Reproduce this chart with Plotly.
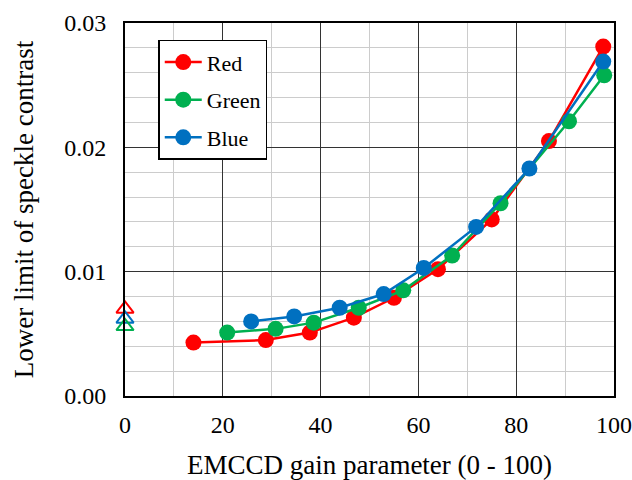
import plotly.graph_objects as go

# EMCCD gain parameter vs. lower limit of speckle contrast, per colour channel
red_gain = [14, 28.8, 37.8, 46.8, 55, 64, 75, 86.7, 97.8]
red_contrast = [0.0043, 0.0045, 0.0051, 0.0063, 0.0079, 0.0102, 0.0142, 0.0205, 0.0281]

green_gain = [20.9, 30.8, 38.6, 47.8, 56.9, 66.9, 76.8, 90.8, 98]
green_contrast = [0.0051, 0.0054, 0.0059, 0.0071, 0.0085, 0.0113, 0.0155, 0.0221, 0.0258]

blue_gain = [25.8, 34.6, 43.9, 52.9, 61.1, 71.8, 82.7, 97.8]
blue_contrast = [0.0060, 0.0064, 0.0071, 0.0082, 0.0103, 0.0136, 0.0183, 0.0269]

# reference values at gain 0 (open triangles)
zero_gain = [0]
red_zero = [0.0070]
green_zero = [0.0056]
blue_zero = [0.0062]

series_names = ["Red", "Green", "Blue"]
series_colors = ["#FF0000", "#00B050", "#0070C0"]

FONT = "Liberation Serif"

fig = go.Figure()

curves = [(red_gain, red_contrast), (green_gain, green_contrast), (blue_gain, blue_contrast)]
for name, color, (gx, gy) in zip(series_names, series_colors, curves):
    fig.add_trace(go.Scatter(
        x=gx, y=gy, name=name, mode="lines+markers",
        line=dict(color=color, width=2.5),
        marker=dict(color=color, size=16, symbol="circle"),
        legendgroup=name,
    ))

# open triangles at zero gain (drawn red, blue, green from top to bottom)
for color, zy in [(series_colors[0], red_zero), (series_colors[2], blue_zero), (series_colors[1], green_zero)]:
    fig.add_trace(go.Scatter(
        x=zero_gain, y=zy, mode="markers", showlegend=False,
        marker=dict(symbol="triangle-up-open", size=15, color=color, line=dict(width=2, color=color)),
        cliponaxis=False,
    ))

fig.update_layout(
    width=632, height=480,
    margin=dict(l=125, r=18, t=23, b=84),
    paper_bgcolor="white", plot_bgcolor="white",
    font=dict(family=FONT, color="black", size=24),
    showlegend=True,
    legend=dict(
        x=0.068, y=0.955, xanchor="left", yanchor="top",
        bgcolor="white", bordercolor="black", borderwidth=1.5,
        font=dict(family=FONT, size=22, color="black"),
        itemwidth=37, tracegroupgap=6,
    ),
    xaxis=dict(
        range=[0, 100], dtick=20, tick0=0, automargin=False,
        showgrid=True, gridcolor="#333333", gridwidth=1.3,
        minor=dict(dtick=10, showgrid=True, gridcolor="#CCCCCC", gridwidth=1.3),
        showline=True, mirror=True, linecolor="black", linewidth=2,
        zeroline=False, ticks="", ticklabelstandoff=6,
        tickfont=dict(family=FONT, size=24),
        title=dict(text="EMCCD gain parameter (0 - 100)", font=dict(family=FONT, size=27), standoff=22),
    ),
    yaxis=dict(
        range=[0, 0.03], dtick=0.01, tick0=0, tickformat=".2f", automargin=False,
        showgrid=True, gridcolor="#333333", gridwidth=1.3,
        minor=dict(dtick=0.002, showgrid=True, gridcolor="#CCCCCC", gridwidth=1.3),
        showline=True, mirror=True, linecolor="black", linewidth=2,
        zeroline=False, ticks="", ticklabelstandoff=12,
        tickfont=dict(family=FONT, size=24),
        title=dict(text="Lower limit of speckle contrast", font=dict(family=FONT, size=27), standoff=23),
    ),
)

fig.write_html("out.html")
